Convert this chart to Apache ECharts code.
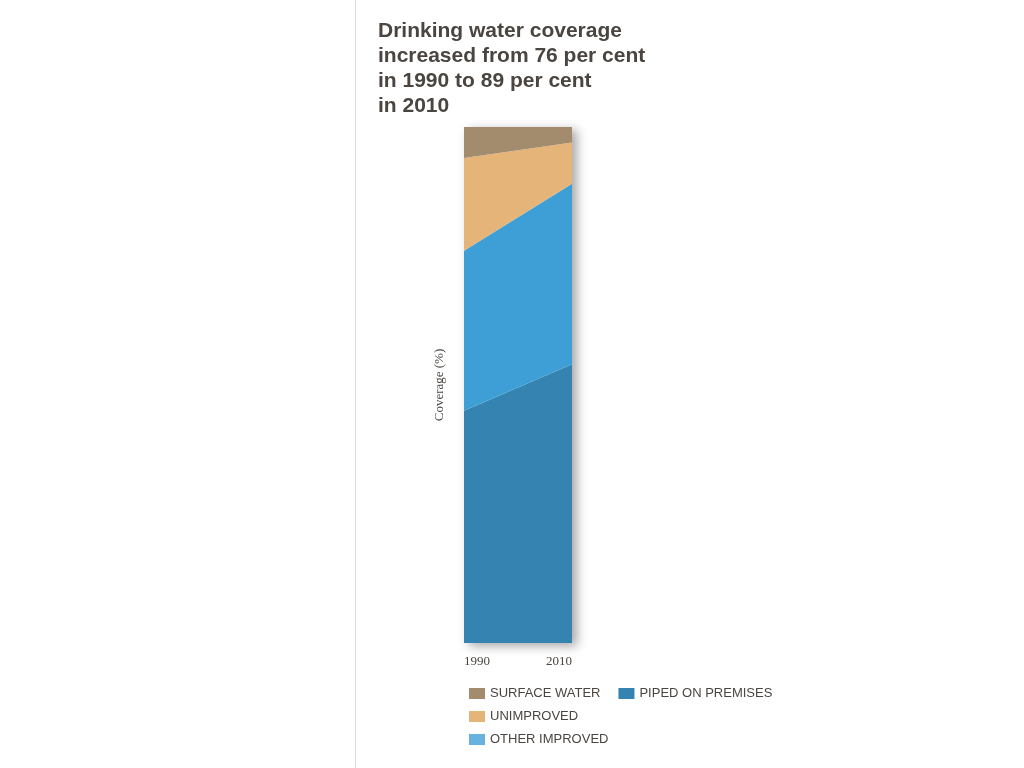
<!DOCTYPE html>
<html><head><meta charset="utf-8">
<script src="https://cdn.jsdelivr.net/npm/echarts@6/dist/echarts.min.js"></script>
<style>html,body{margin:0;background:#fff}#c{width:1024px;height:768px}</style>
</head><body><div id="c"></div>
<script>
const years = ['1990', '2010'];
const names = ['PIPED ON PREMISES', 'OTHER IMPROVED', 'UNIMPROVED', 'SURFACE WATER'];
const piped = [45, 54];
const otherImproved = [31, 35];
const unimproved = [18, 8];
const surface = [6, 3];
const colors = ['#3483b1', '#3d9fd6', '#e4b478', '#a38b6d'];
const legendColors = ['#3483b1', '#69b2e0', '#e4b478', '#a38b6d'];
const values = [piped, otherImproved, unimproved, surface];

const chart = echarts.init(document.getElementById('c'));
chart.setOption({
  animation: false,
  title: {
    text: 'Drinking water coverage\nincreased from 76 per cent\nin 1990 to 89 per cent\nin 2010',
    left: 373, top: 14,
    textStyle: { fontFamily: 'Liberation Sans', fontSize: 21, fontWeight: 'bold', color: '#4a4540', lineHeight: 25 }
  },
  grid: {
    left: 464, right: 452, top: 127, bottom: 125, show: true, borderWidth: 0,
    backgroundColor: '#fff', shadowBlur: 10, shadowColor: 'rgba(0,0,0,0.35)', shadowOffsetX: 5, shadowOffsetY: 3
  },
  legend: {
    data: names.slice().reverse().map(n => ({ name: n, itemStyle: { color: legendColors[names.indexOf(n)] } })),
    orient: 'vertical', left: 464, top: 682, itemWidth: 16, itemHeight: 11, itemGap: 10,
    icon: 'rect',
    textStyle: { fontFamily: 'Liberation Sans', fontSize: 13, color: '#4a4540' }
  },
  xAxis: {
    type: 'category', data: years, boundaryGap: false,
    axisLine: { show: false }, axisTick: { show: false },
    axisLabel: { margin: 12, fontFamily: 'Liberation Sans Narrow', fontSize: 13, color: '#4a4540', alignMinLabel: 'left', alignMaxLabel: 'right' }
  },
  yAxis: {
    type: 'value', min: 0, max: 100, show: true,
    axisLabel: { show: false }, axisLine: { show: false }, axisTick: { show: false }, splitLine: { show: false },
    name: 'Coverage (%)', nameLocation: 'middle', nameGap: 18,
    nameTextStyle: { fontFamily: 'Liberation Sans Narrow', fontSize: 13, color: '#4a4540' }
  },
  series: names.map((n, i) => ({
    name: n, type: 'line', stack: 'all', data: values[i], symbol: 'none',
    lineStyle: { width: 0 }, itemStyle: { color: colors[i] },
    areaStyle: { color: colors[i], opacity: 1 }
  })),
  graphic: [{ type: 'line', shape: { x1: 355.5, y1: 0, x2: 355.5, y2: 768 }, style: { stroke: '#dddddd', lineWidth: 1 } }]
});

// value labels in the middle of each band
const texts = [];
[0, 1].forEach(j => {
  let base = 0;
  values.forEach(v => {
    const mid = base + v[j] / 2;
    base += v[j];
    const p = chart.convertToPixel({ gridIndex: 0 }, [j, mid]);
    texts.push({
      type: 'text', x: j === 0 ? p[0] + 8 : p[0] - 8, y: p[1],
      style: { text: String(v[j]), fill: '#fff', font: 'bold 14px "Liberation Sans Narrow"',
        align: j === 0 ? 'left' : 'right', verticalAlign: 'middle' }
    });
  });
});
chart.setOption({ graphic: [{ type: 'line', shape: { x1: 355.5, y1: 0, x2: 355.5, y2: 768 }, style: { stroke: '#dddddd', lineWidth: 1 } }].concat(texts) });
</script></body></html>
